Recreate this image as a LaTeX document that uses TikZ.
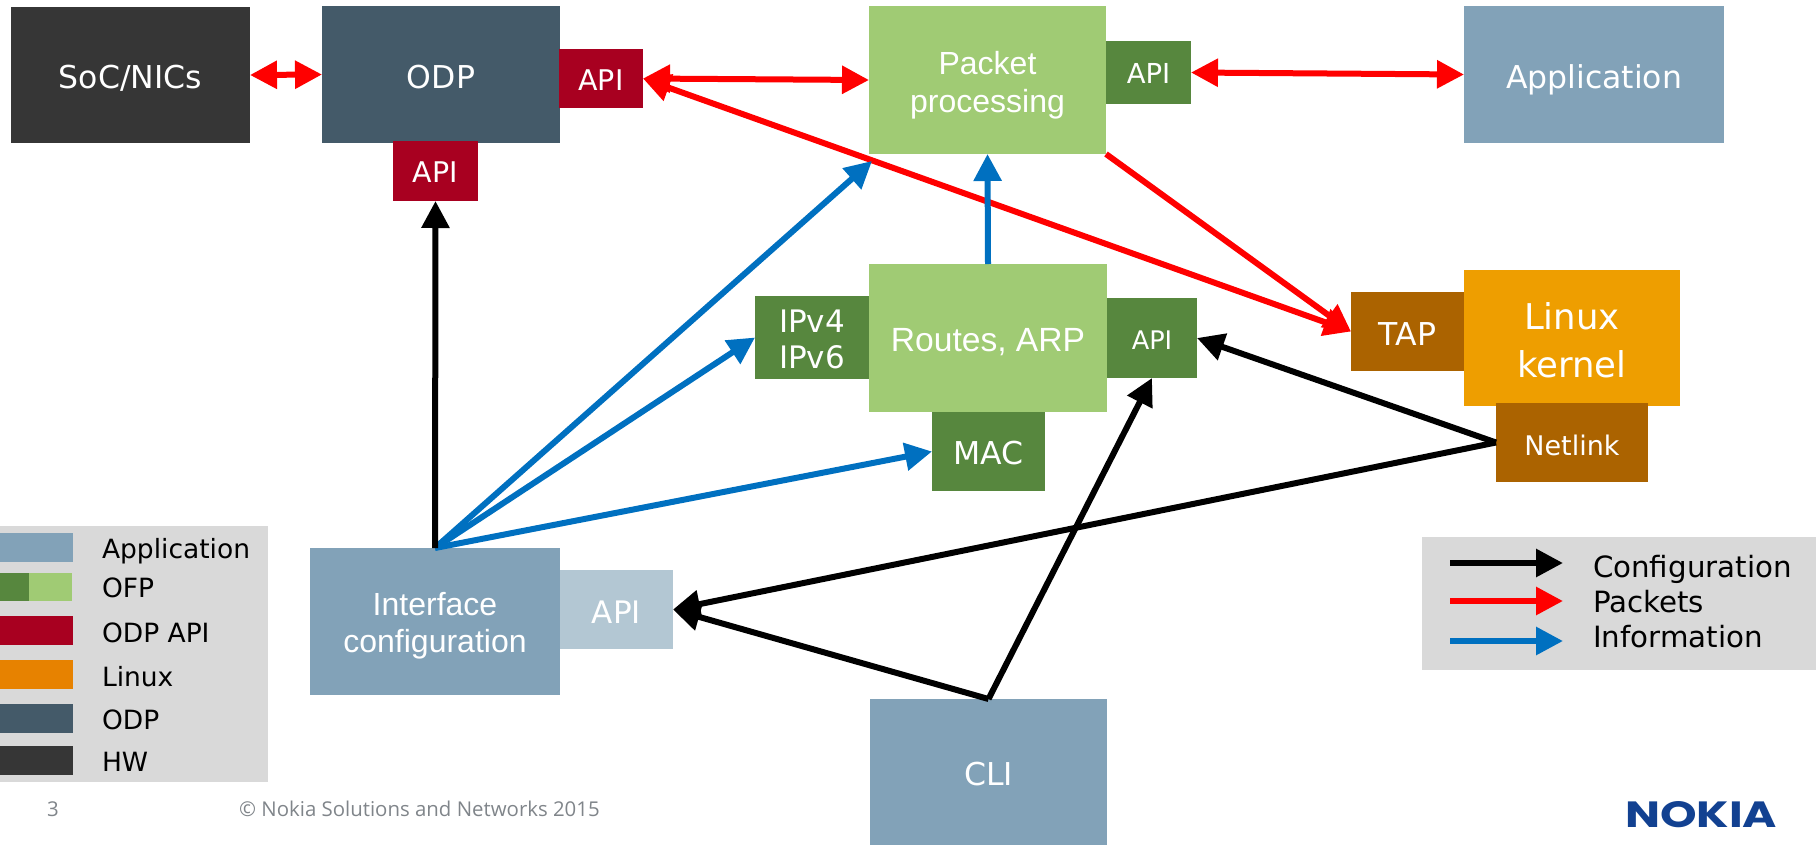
\documentclass[tikz,border=0pt]{standalone}
\usepackage{fontspec}
\usepackage{graphicx}
\setmainfont{DejaVu Sans}
\newfontfamily\libsans{Liberation Sans}
\newfontfamily\footfont{Open Sans}
\usetikzlibrary{arrows.meta,calc}
\definecolor{appc}{HTML}{82A2B8}
\definecolor{ofpl}{HTML}{A0CB74}
\definecolor{ofpd}{HTML}{57873E}
\definecolor{odpapi}{HTML}{A80020}
\definecolor{linuxc}{HTML}{EE9E00}
\definecolor{linuxs}{HTML}{E78200}
\definecolor{brownc}{HTML}{AB6300}
\definecolor{odpc}{HTML}{445A69}
\definecolor{hwc}{HTML}{363636}
\definecolor{apil}{HTML}{B3C7D3}
\definecolor{leg}{HTML}{D9D9D9}
\definecolor{infoc}{HTML}{0070C0}
\definecolor{nokiac}{HTML}{124191}
\definecolor{footc}{HTML}{80858A}
\newcommand{\fsz}[2]{\fontsize{#1pt}{#2pt}\selectfont}
% [text shift down], name, x1, y1, x2, y2, style, text
\newcommand{\bx}[8][6]{\node[boxn,#7,minimum width={(#5-#3)*1pt},minimum height={(#6-#4)*1pt}] (#2) at ({(#3+#5)/2},{(#4+#6)/2}) {\vbox{\vskip #1pt\vskip #1pt\hbox{\begin{tabular}{@{}c@{}}#8\end{tabular}}}};}
% plain filled block without text: name, x1, y1, x2, y2, colour
\newcommand{\sw}[6]{\node[boxn,fill=#6,minimum width={(#4-#2)*1pt},minimum height={(#5-#3)*1pt}] (#1) at ({(#2+#4)/2},{(#3+#5)/2}) {};}
\tikzset{
  boxn/.style={inner sep=0pt,outer sep=0pt,rectangle,text=white,font=\fsz{31.5}{38}},
  legtext/.style={inner sep=0pt,outer sep=0pt,anchor=base west,text=black},
  conn/.style={line width=6pt,-{Triangle[length=27pt,width=27pt]}},
  both/.style={line width=6pt,{Triangle[length=27pt,width=27pt]}-{Triangle[length=27pt,width=27pt]}},
  cfgline/.style={conn,draw=black},
  pktline/.style={conn,draw=red},
  pktboth/.style={both,draw=red},
  infline/.style={conn,draw=infoc},
}
\begin{document}
\begin{tikzpicture}[x=1pt,y=-1pt]
\useasboundingbox (0,0) rectangle (1816,844);
% legends
\sw{legl}{0}{526}{268}{782}{leg}
\sw{legr}{1422}{537}{1816}{670}{leg}
\sw{sw1}{0}{533}{73}{562}{appc}
\sw{sw2a}{0}{573}{29}{601}{ofpd}
\sw{sw2b}{29}{573}{72}{601}{ofpl}
\sw{sw3}{0}{616}{73}{645}{odpapi}
\sw{sw4}{0}{660}{73}{689}{linuxs}
\sw{sw5}{0}{704}{73}{733}{odpc}
\sw{sw6}{0}{746}{73}{775}{hwc}
\begin{scope}[every node/.append style={font=\fsz{26.5}{30}}]
\node[legtext] (lt1) at (102,558) {Application};
\node[legtext] (lt2) at (102,597) {OFP};
\node[legtext] (lt3) at (102,642) {ODP API};
\node[legtext] (lt4) at (102,686) {Linux};
\node[legtext] (lt5) at (102,729) {ODP};
\node[legtext] (lt6) at (102,771) {HW};
\end{scope}
\begin{scope}[every node/.append style={font=\fsz{29.3}{32}}]
\node[legtext] (lr1) at (1593,577) {Configuration};
\node[legtext] (lr2) at (1593,612) {Packets};
\node[legtext] (lr3) at (1593,647) {Information};
\end{scope}
\coordinate (a1s) at (1450,563); \coordinate (a1e) at (1563,563);
\coordinate (a2s) at (1450,601); \coordinate (a2e) at (1563,601);
\coordinate (a3s) at (1450,641); \coordinate (a3e) at (1563,641);
\draw[cfgline] (a1s) -- (a1e);
\draw[pktline] (a2s) -- (a2e);
\draw[infline] (a3s) -- (a3e);
% boxes
\bx{soc}{11}{7}{250}{143}{fill=hwc}{SoC/NICs}
\bx{odp}{322}{6}{560}{143}{fill=odpc}{ODP}
\bx[5.5]{apia}{559}{49}{643}{108}{fill=odpapi,font=\fsz{28.5}{32}}{API}
\bx[5.5]{apib}{393}{141}{478}{201}{fill=odpapi,font=\fsz{28.5}{32}}{API}
\bx[5.5]{packet}{869}{6}{1106}{154}{fill=ofpl,font=\libsans\fsz{32}{38}}{Packet\\processing}
\bx[5]{apip}{1106}{41}{1191}{104}{fill=ofpd,font=\fsz{27.5}{32}}{API}
\bx{appn}{1464}{6}{1724}{143}{fill=appc}{Application}
\bx[6]{routes}{869}{264}{1107}{412}{fill=ofpl,font=\libsans\fsz{33.6}{38}}{Routes, ARP}
\bx[5]{apir}{1107}{298}{1197}{378}{fill=ofpd,font=\fsz{25.6}{30}}{API}
\bx[5.5]{mac}{932}{412}{1045}{491}{fill=ofpd}{MAC}
\bx[5.5]{ip}{755}{298}{869}{377}{fill=ofpd,font=\fsz{31}{36}}{IPv4\\IPv6}
\bx[6.5]{tap}{1351}{292}{1464}{371}{fill=brownc,font=\fsz{31.5}{36}}{TAP}
\bx[6]{linux}{1464}{270}{1680}{406}{fill=linuxc,font=\fsz{35.5}{47.5}}{Linux\\kernel}
\bx[7]{netlink}{1496}{403}{1648}{482}{fill=brownc,font=\fsz{27}{32}}{Netlink}
\bx[5]{iface}{310}{548}{560}{695}{fill=appc,font=\libsans\fsz{32}{37}}{Interface\\configuration}
\bx[7]{apii}{560}{570}{673}{649}{fill=apil,font=\fsz{31}{36}}{API}
\bx[6]{cli}{870}{699}{1107}{845}{fill=appc}{CLI}
% connectors
\coordinate (ptip) at ($(packet.south west)+(3,7)$);
\draw[pktboth] (soc.east) -- (odp.west);
\draw[pktboth] (apia.east) -- (packet.west);
\draw[pktboth] (apip.east) -- (appn.west);
\draw[pktboth] (apia.east) -- (tap.west);
\draw[pktline] (packet.south east) -- (tap.west);
\draw[infline] (routes.north) -- (packet.south);
\draw[infline] (iface.north) -- (ptip);
\draw[infline] (iface.north) -- (ip.west);
\draw[infline] (iface.north) -- (mac.west);
\draw[cfgline] (iface.north) -- (apib.south);
\draw[cfgline] (netlink.west) -- (apir.east);
\draw[cfgline] (netlink.west) -- (apii.east);
\draw[cfgline] (cli.north) -- (apii.east);
\draw[cfgline] (cli.north) -- (apir.south);
% footer
\node[inner sep=0pt,anchor=base,text=footc,font=\footfont\fsz{20.4}{24}] (pgno) at (53,816) {3};
\node[inner sep=0pt,anchor=base west,text=footc,font=\footfont\fsz{20.4}{24}] (foot) at (239,816) {© Nokia Solutions and Networks 2015};
\node[inner sep=0pt,anchor=north west,text=nokiac] (nokia) at (1625,801) {\resizebox{152pt}{26pt}{\fontspec{Poppins}[Scale=1]\bfseries NOKIA}};
\end{tikzpicture}
\end{document}
